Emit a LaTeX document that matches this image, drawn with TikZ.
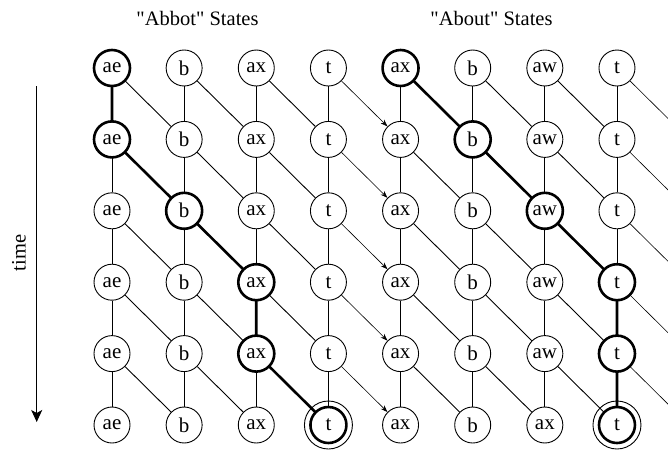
\documentclass[tikz,border=0pt]{standalone}
\usepackage{fontspec}
\setmainfont{Liberation Serif}[Ligatures=TeXOff]
\usetikzlibrary{arrows.meta}
\begin{document}
\begin{tikzpicture}[x=1pt,y=-1pt,
  state/.style={circle,draw,line width=0.9pt,minimum size=36pt,inner sep=0pt,
    font=\fontsize{21}{24}\selectfont},
  link/.style={line width=0.9pt},
  best/.style={line width=2.6pt},
  hop/.style={line width=0.6pt,-{Stealth[length=7pt,width=5pt]}},
  caption/.style={font=\fontsize{20.5}{24}\selectfont}
]
\useasboundingbox (0,0) rectangle (668,453);
\clip (0,0) rectangle (668,453);

% grid of word states over time
\foreach \r in {0,...,5}{
  \ifnum\r=5 \def\labs{ae,b,ax,t,ax,b,ax,t}\else\def\labs{ae,b,ax,t,ax,b,aw,t}\fi
  \foreach \lab [count=\c from 0] in \labs {
    \node[state] (n-\c-\r) at ({112+72.14*\c},{68+71.4*\r}) {\lab};
  }
  \coordinate (n-8-\r) at ({112+72.14*8},{68+71.4*\r});
}

% transitions: stay in state
\foreach \c in {0,...,7}{
  \foreach \r [evaluate=\r as \rn using int(\r+1)] in {0,...,4}{
    \draw[link] (n-\c-\r) -- (n-\c-\rn);
  }
}
% transitions: advance within a word
\foreach \c [evaluate=\c as \cn using int(\c+1)] in {0,1,2,4,5,6}{
  \foreach \r [evaluate=\r as \rn using int(\r+1)] in {0,...,4}{
    \draw[link] (n-\c-\r) -- (n-\cn-\rn);
  }
}
% transitions: into the next word
\foreach \c [evaluate=\c as \cn using int(\c+1)] in {3,7}{
  \foreach \r [evaluate=\r as \rn using int(\r+1)] in {0,...,4}{
    \draw[hop] (n-\c-\r) -- (n-\cn-\rn);
  }
}

% best paths
\draw[best] (n-0-0) -- (n-0-1) -- (n-1-2) -- (n-2-3) -- (n-2-4) -- (n-3-5);
\draw[best] (n-4-0) -- (n-5-1) -- (n-6-2) -- (n-7-3) -- (n-7-4) -- (n-7-5);
\foreach \n in {0-0,0-1,1-2,2-3,2-4,3-5,4-0,5-1,6-2,7-3,7-4,7-5}{
  \draw[best] (n-\n.center) circle[radius=18];
}
% final states
\draw[link] (n-3-5.center) circle[radius=24];
\draw[link] (n-7-5.center) circle[radius=24];

% headings
\node[caption] (h1) at (197.5,18) {"Abbot" States};
\node[caption] (h2) at (491.5,18) {"About" States};

% time axis
\coordinate (t0) at (36.7,86);
\coordinate (t1) at (36.7,422);
\draw[line width=1pt,-{Stealth[length=12pt,width=11pt,inset=3pt]}] (t0) -- (t1);
\node[caption,rotate=90] (tl) at (19,253) {time};
\end{tikzpicture}
\end{document}
